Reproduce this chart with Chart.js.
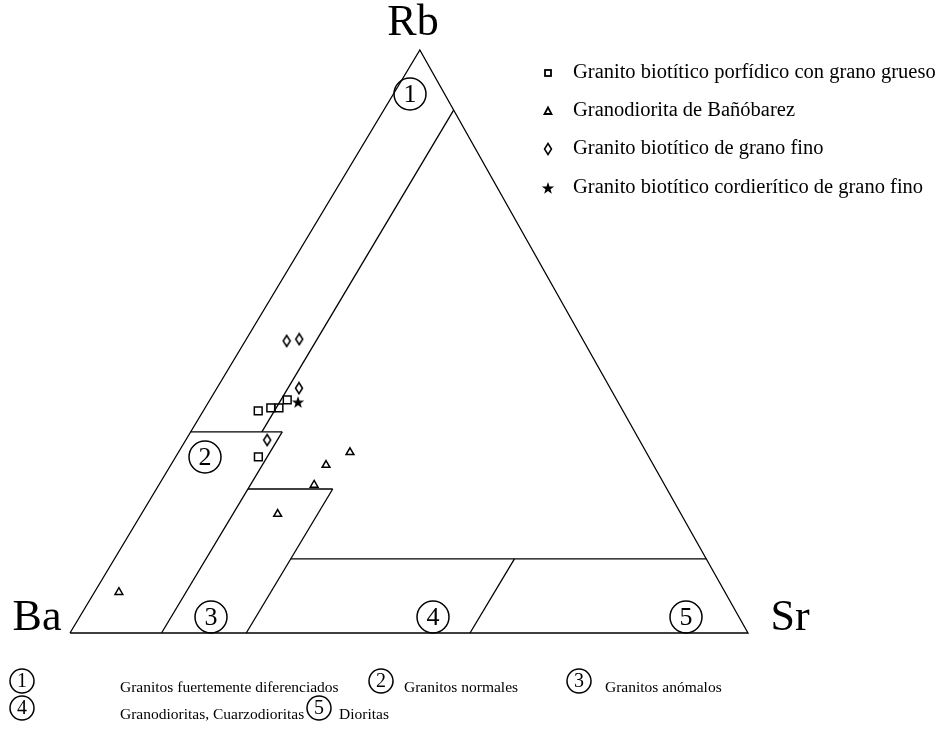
<!DOCTYPE html>
<html>
<head>
<meta charset="utf-8">
<script src="https://cdn.jsdelivr.net/npm/chart.js@4.4.0/dist/chart.umd.min.js"></script>
<style>
  html, body { margin: 0; padding: 0; background: #fff; }
</style>
</head>
<body>
<canvas id="graficoTernario" width="941" height="745"></canvas>
<script>
const porfidoRb = [38.1, 38.6, 38.6, 40.0, 30.2];
const porfidoBa = [53.8, 51.7, 50.5, 48.6, 57.6];
const porfidoSr = [8.1, 9.7, 10.9, 11.4, 12.2];

const banobarezRb = [31.0, 28.8, 25.4, 20.4, 7.0];
const banobarezBa = [43.7, 48.3, 51.7, 59.5, 89.4];
const banobarezSr = [25.3, 22.9, 22.9, 20.1, 3.6];

const finoRb = [50.1, 50.4, 42.0, 33.1];
const finoBa = [43.8, 41.8, 45.9, 54.9];
const finoSr = [6.1, 7.8, 12.1, 12.0];

const cordieritaRb = [39.6];
const cordieritaBa = [47.2];
const cordieritaSr = [13.2];

const nombresSeries = [
  'Granito biotítico porfídico con grano grueso',
  'Granodiorita de Bañóbarez',
  'Granito biotítico de grano fino',
  'Granito biotítico cordierítico de grano fino'
];

// limites de campos [Rb, Ba, Sr]
const borde = [[0, 100, 0], [0, 0, 100], [100, 0, 0], [0, 100, 0]];
const limiteA = [[89.7, 0, 10.3], [34.5, 55.0, 10.5]];
const limiteH1 = [[34.5, 65.5, 0], [34.5, 52.0, 13.5]];
const limiteB = [[34.5, 52.0, 13.5], [0, 86.5, 13.5]];
const limiteH2 = [[24.7, 61.8, 13.5], [24.7, 49.3, 26.0]];
const limiteC = [[24.7, 49.3, 26.0], [0, 74.0, 26.0]];
const limiteH3 = [[12.7, 61.3, 26.0], [12.7, 0, 87.3]];
const limiteD = [[12.7, 28.3, 59.0], [0, 41.0, 59.0]];

const camposNombres = [
  'Granitos fuertemente diferenciados',
  'Granitos normales',
  'Granitos anómalos',
  'Granodioritas, Cuarzodioritas',
  'Dioritas'
];

// el vertice Rb del dibujo original esta algo desplazado a la derecha
const APEX_X = 0.516;

function proyectar(rb, ba, sr) {
  const t = rb + ba + sr;
  return { x: sr / t + APEX_X * rb / t, y: rb / t };
}

function puntos(rb, ba, sr) {
  return rb.map((v, i) => proyectar(v, ba[i], sr[i]));
}

function linea(seg) {
  return {
    type: 'line',
    data: seg.map(p => proyectar(p[0], p[1], p[2])),
    borderColor: '#000',
    borderWidth: 1.3,
    pointRadius: 0,
    fill: false,
    clip: false,
    tension: 0
  };
}

function crearRombo() {
  const c = document.createElement('canvas');
  c.width = 10; c.height = 14;
  const g = c.getContext('2d');
  g.strokeStyle = '#000'; g.lineWidth = 1.5; g.fillStyle = '#fff';
  g.beginPath();
  g.moveTo(5, 1.5); g.lineTo(8.5, 7); g.lineTo(5, 12.5); g.lineTo(1.5, 7); g.closePath();
  g.fill(); g.stroke();
  return c;
}

function crearEstrella() {
  const c = document.createElement('canvas');
  c.width = 14; c.height = 14;
  const g = c.getContext('2d');
  g.fillStyle = '#000';
  g.beginPath();
  for (let i = 0; i < 10; i++) {
    const r = i % 2 === 0 ? 6.5 : 2.6;
    const a = -Math.PI / 2 + i * Math.PI / 5;
    const px = 7 + r * Math.cos(a), py = 7.5 + r * Math.sin(a);
    if (i === 0) g.moveTo(px, py); else g.lineTo(px, py);
  }
  g.closePath();
  g.fill();
  return c;
}

const rombo = crearRombo();
const estrella = crearEstrella();

function circulo(ctx, x, y, r, num, size) {
  ctx.beginPath();
  ctx.arc(x, y, r, 0, Math.PI * 2);
  ctx.lineWidth = 1.5;
  ctx.strokeStyle = '#000';
  ctx.stroke();
  ctx.font = size + 'px "Liberation Serif"';
  ctx.fillStyle = '#000';
  ctx.textAlign = 'center';
  ctx.textBaseline = 'middle';
  ctx.fillText(num, x, y + 1);
}

const textos = {
  id: 'textos',
  afterDraw(chart) {
    const ctx = chart.ctx;
    ctx.save();
    ctx.fillStyle = '#000';
    ctx.textAlign = 'center';
    ctx.textBaseline = 'middle';
    ctx.font = '44px "Liberation Serif"';
    ctx.fillText('Rb', 413, 23);
    ctx.fillText('Ba', 37, 618);
    ctx.fillText('Sr', 790, 618);

    circulo(ctx, 410, 94, 16, '1', 26);
    circulo(ctx, 205, 457, 16, '2', 26);
    circulo(ctx, 211, 617, 16, '3', 26);
    circulo(ctx, 433, 617, 16, '4', 26);
    circulo(ctx, 686, 617, 16, '5', 26);

    // leyenda de series
    const filas = [73, 111, 149, 188];
    ctx.font = '20.5px "Liberation Serif"';
    ctx.textAlign = 'left';
    ctx.textBaseline = 'middle';
    nombresSeries.forEach((n, i) => {
      ctx.fillStyle = '#000';
      ctx.fillText(n, 573, filas[i]);
    });
    const mx = 548;
    ctx.lineWidth = 1.8;
    ctx.strokeStyle = '#000';
    ctx.strokeRect(mx - 3, filas[0] - 3, 6, 6);
    ctx.beginPath();
    ctx.moveTo(mx, filas[1] - 3.5); ctx.lineTo(mx + 3.5, filas[1] + 3); ctx.lineTo(mx - 3.5, filas[1] + 3); ctx.closePath();
    ctx.stroke();
    ctx.drawImage(rombo, mx - 5, filas[2] - 7);
    ctx.drawImage(estrella, mx - 7, filas[3] - 7);

    // leyenda de campos
    const campos = [
      { n: '1', cx: 22, cy: 681, tx: 120 },
      { n: '2', cx: 381, cy: 681, tx: 404 },
      { n: '3', cx: 579, cy: 681, tx: 605 },
      { n: '4', cx: 22, cy: 708, tx: 120 },
      { n: '5', cx: 319, cy: 708, tx: 339 }
    ];
    campos.forEach((c, i) => {
      circulo(ctx, c.cx, c.cy, 12, c.n, 20);
      ctx.font = '15.5px "Liberation Serif"';
      ctx.textAlign = 'left';
      ctx.textBaseline = 'middle';
      ctx.fillText(camposNombres[i], c.tx, c.cy + 7);
    });
    ctx.restore();
  }
};

const ctx = document.getElementById('graficoTernario').getContext('2d');
new Chart(ctx, {
  type: 'scatter',
  data: {
    datasets: [
      linea(borde), linea(limiteA), linea(limiteH1), linea(limiteB),
      linea(limiteH2), linea(limiteC), linea(limiteH3), linea(limiteD),
      {
        label: nombresSeries[0],
        data: puntos(porfidoRb, porfidoBa, porfidoSr),
        pointStyle: 'rect',
        pointRadius: 5.5,
        backgroundColor: '#fff',
        borderColor: '#000',
        borderWidth: 1.5,
        clip: false
      },
      {
        label: nombresSeries[1],
        data: puntos(banobarezRb, banobarezBa, banobarezSr),
        pointStyle: 'triangle',
        pointRadius: 4.5,
        backgroundColor: '#fff',
        borderColor: '#000',
        borderWidth: 1.5,
        clip: false
      },
      {
        label: nombresSeries[2],
        data: puntos(finoRb, finoBa, finoSr),
        pointStyle: rombo,
        clip: false
      },
      {
        label: nombresSeries[3],
        data: puntos(cordieritaRb, cordieritaBa, cordieritaSr),
        pointStyle: estrella,
        clip: false
      }
    ]
  },
  options: {
    responsive: false,
    animation: false,
    layout: { padding: { left: 70, right: 193, top: 50, bottom: 112 } },
    scales: {
      x: { type: 'linear', min: 0, max: 1, display: false },
      y: { type: 'linear', min: 0, max: 1, display: false }
    },
    plugins: { legend: { display: false }, tooltip: { enabled: false } }
  },
  plugins: [textos]
});
</script>
</body>
</html>
